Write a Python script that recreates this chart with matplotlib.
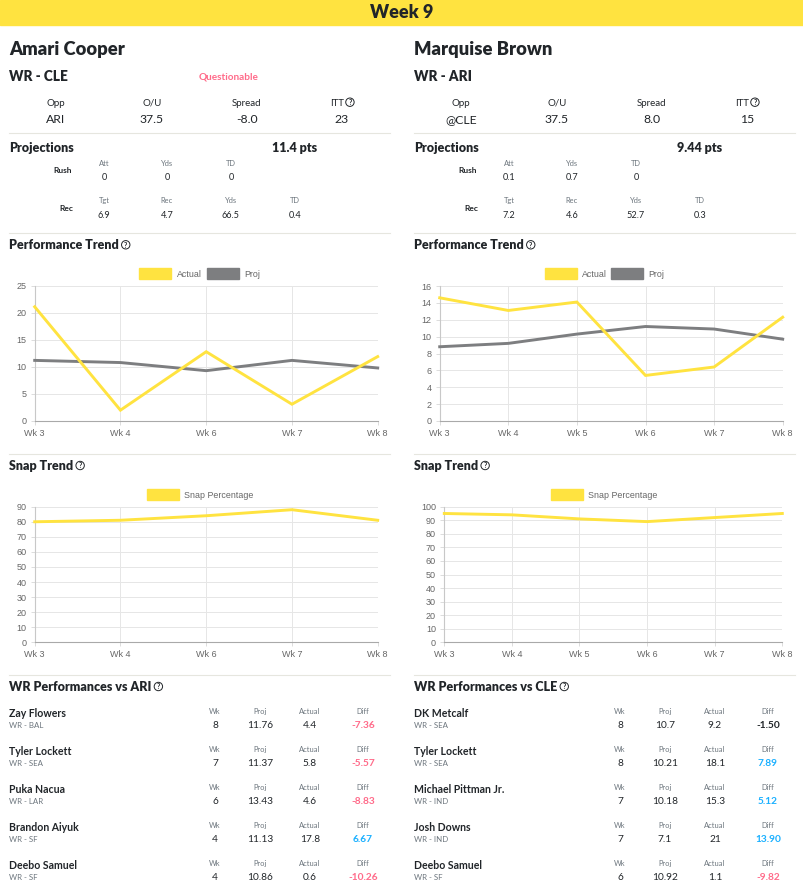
import numpy as np
import matplotlib.pyplot as plt
from matplotlib.patches import Rectangle, Circle

W, H = 804, 889
YELLOW = '#ffe340'
GREY = '#7d7e80'
INK = '#212529'
MUTED = '#6c757d'
PINK = '#ff6b8a'
BLUE = '#1ab0ff'
PAGE_FONT = ['Lato', 'DejaVu Sans']
HEAVY = 800
plt.rcParams['font.family'] = ['Liberation Sans', 'DejaVu Sans']

week_title = "Week 9"

# player cards
names = ["Amari Cooper", "Marquise Brown"]
positions = ["WR - CLE", "WR - ARI"]
statuses = ["Questionable", ""]
game_heads = ["Opp", "O/U", "Spread", "ITT"]
opps = ["ARI", "@CLE"]
over_unders = [37.5, 37.5]
spreads = [-8.0, 8.0]
itts = [23, 15]
proj_pts = ["11.4", "9.44"]
rush_heads = ["Att", "Yds", "TD"]
rush_proj = [[0, 0, 0], [0.1, 0.7, 0]]
rec_heads = ["Tgt", "Rec", "Yds", "TD"]
rec_proj = [[6.9, 4.7, 66.5, 0.4], [7.2, 4.6, 52.7, 0.3]]

# trend charts
cooper_weeks = ["Wk 3", "Wk 4", "Wk 6", "Wk 7", "Wk 8"]
cooper_actual = [21.1, 2.0, 12.8, 3.1, 11.9]
cooper_proj = [11.2, 10.8, 9.3, 11.2, 9.8]
cooper_snap = [80, 81, 84, 88, 81]
brown_weeks = ["Wk 3", "Wk 4", "Wk 5", "Wk 6", "Wk 7", "Wk 8"]
brown_actual = [14.6, 13.1, 14.1, 5.4, 6.4, 12.3]
brown_proj = [8.8, 9.2, 10.3, 11.2, 10.9, 9.7]
brown_snap = [95, 94, 91, 89, 92, 95]

# WR performances vs defense
vs_titles = ["WR Performances vs ARI", "WR Performances vs CLE"]
vs_names = [["Zay Flowers", "Tyler Lockett", "Puka Nacua", "Brandon Aiyuk", "Deebo Samuel"],
            ["DK Metcalf", "Tyler Lockett", "Michael Pittman Jr.", "Josh Downs", "Deebo Samuel"]]
vs_teams = [["WR - BAL", "WR - SEA", "WR - LAR", "WR - SF", "WR - SF"],
            ["WR - SEA", "WR - SEA", "WR - IND", "WR - IND", "WR - SF"]]
vs_wk = [[8, 7, 6, 4, 4], [8, 8, 7, 7, 6]]
vs_proj = [[11.76, 11.37, 13.43, 11.13, 10.86], [10.7, 10.21, 10.18, 7.1, 10.92]]
vs_actual = [[4.4, 5.8, 4.6, 17.8, 0.6], [9.2, 18.1, 15.3, 21, 1.1]]
table_heads = ["Wk", "Proj", "Actual", "Diff"]

fig = plt.figure(figsize=(W / 100, H / 100), dpi=100)
fig.patch.set_facecolor('white')
bg = fig.add_axes([0, 0, 1, 1])
bg.set_xlim(0, W)
bg.set_ylim(H, 0)
bg.axis('off')
renderer = fig.canvas.get_renderer()


def txt(x, y, s, size, bold=False, color=INK, ha='left', va='baseline'):
    weight = bold if not isinstance(bold, bool) else ('bold' if bold else 'normal')
    return bg.text(x, y, s, fontsize=size, fontweight=weight,
                   color=color, ha=ha, va=va, family=PAGE_FONT)


def help_icon(x, y):
    bg.add_patch(Circle((x + 4.5, y), 4.2, fill=False, ec=INK, lw=0.7))
    bg.text(x + 4.5, y + 0.4, '?', fontsize=5, ha='center', va='center',
            color=INK, family=PAGE_FONT, fontweight='bold')


def heading(x, y, s, size=9):
    t = txt(x, y, s, size, bold=HEAVY)
    bb = t.get_window_extent(renderer)
    help_icon(bb.x1 + 2.5, y - 4.5)


def separator(x, y):
    bg.plot([x, x + 381], [y, y], color='#e6e6df', lw=0.8)


def fmt(v):
    return f"{v:g}"


def legend_item(x, y, color, label):
    bg.add_patch(Rectangle((x, y - 5.5), 32, 11, color=color))
    txt(x + 37, y + 3.5, label, 6.4, color='#666666').set_family(['Liberation Sans'])


def trend_chart(box, labels, series, ymax, ystep):
    x0, y0, x1, y1 = box
    ax = fig.add_axes([x0 / W, 1 - y1 / H, (x1 - x0) / W, (y1 - y0) / H])
    xs = np.arange(len(labels))
    for z, (vals, color) in enumerate(series):
        ax.plot(xs, vals, color=color, lw=2.1, clip_on=False,
                solid_joinstyle='miter', zorder=5 - z)
    ax.set_xlim(0, len(labels) - 1)
    ax.set_ylim(0, ymax)
    ax.set_xticks(xs)
    ax.set_xticklabels(labels)
    ax.set_yticks(np.arange(0, ymax + 1, ystep))
    ax.grid(True, color='#e6e6e6', lw=0.7)
    ax.set_axisbelow(True)
    for s in ['top', 'right']:
        ax.spines[s].set_visible(False)
    ax.spines['left'].set_color('#c8c8c8')
    ax.spines['bottom'].set_color('#a9a9a9')
    ax.spines['left'].set_linewidth(0.8)
    ax.spines['bottom'].set_linewidth(0.8)
    ax.tick_params(length=3, width=0.7, color='#dcdcdc', labelsize=6.5,
                   labelcolor='#666666')
    ax.tick_params(axis='x', pad=2.5)
    ax.tick_params(axis='y', pad=3)
    return ax


# banner
bg.add_patch(Rectangle((0, 0), W, 25, color=YELLOW))
txt(W / 2, 18.3, week_title, 13, bold=HEAVY, ha='center')

game_x = [56, 152, 247, 342]
proj_x = [104, 167, 231, 295]
table_x = [215, 260, 310, 363]

for p in range(2):
    dx = 0 if p == 0 else 405
    lx = 9 + dx
    txt(lx, 55, names[p], 13.2, bold=HEAVY)
    txt(lx, 80.7, positions[p], 9.8, bold=HEAVY)
    if statuses[p]:
        txt(229 + dx, 79.3, statuses[p], 7.2, bold=True, color=PINK, ha='center')

    vals = [opps[p], f"{over_unders[p]:.1f}", f"{spreads[p]:.1f}", str(itts[p])]
    for i, (h, v) in enumerate(zip(game_heads, vals)):
        cx = game_x[i] + dx
        if h == "ITT":
            t = txt(cx - 5, 106, h, 7, ha='center')
            bb = t.get_window_extent(renderer)
            help_icon(bb.x1 + 1.5, 102.2)
        else:
            txt(cx, 106, h, 7, ha='center')
        txt(cx, 123, v, 8.8, ha='center')
    separator(lx, 133)

    txt(lx, 151.7, "Projections", 9, bold=HEAVY)
    txt(294.7 + dx, 151.7, f"{proj_pts[p]} pts", 9, bold=HEAVY, ha='center')
    txt(63 + dx, 173, "Rush", 6, bold=True, ha='center')
    for i, (h, v) in enumerate(zip(rush_heads, rush_proj[p])):
        txt(proj_x[i] + dx, 166, h, 5.4, color=MUTED, ha='center')
        txt(proj_x[i] + dx, 180, fmt(v), 6.6, ha='center')
    txt(66 + dx, 211, "Rec", 6, bold=True, ha='center')
    for i, (h, v) in enumerate(zip(rec_heads, rec_proj[p])):
        txt(proj_x[i] + dx, 203, h, 5.4, color=MUTED, ha='center')
        txt(proj_x[i] + dx, 218, fmt(v), 6.6, ha='center')
    separator(lx, 233)

    heading(lx, 249.3, "Performance Trend")
    separator(lx, 454)
    heading(lx, 470, "Snap Trend")
    separator(lx, 675.3)
    heading(lx, 691, vs_titles[p])

    for r in range(5):
        oy = 38 * r
        txt(lx, 717.3 + oy, vs_names[p][r], 7.6, bold=True)
        txt(lx, 727.7 + oy, vs_teams[p][r], 5.7, color=MUTED)
        diff = vs_actual[p][r] - vs_proj[p][r]
        cells = [str(vs_wk[p][r]), fmt(vs_proj[p][r]), fmt(vs_actual[p][r]), f"{diff:.2f}"]
        for c in range(4):
            cx = table_x[c] + dx
            txt(cx, 714 + oy, table_heads[c], 5.4, color=MUTED, ha='center')
            if c == 3:
                col = BLUE if diff > 2 else (PINK if diff < -2 else INK)
                txt(cx, 727.7 + oy, cells[c], 7.3, bold=True, color=col, ha='center')
            else:
                txt(cx, 727.7 + oy, cells[c], 7.3, ha='center')

# legends
legend_item(139.5, 273.5, YELLOW, "Actual")
legend_item(207, 273.5, GREY, "Proj")
legend_item(544.7, 273.5, YELLOW, "Actual")
legend_item(611, 273.5, GREY, "Proj")
legend_item(147, 494.5, YELLOW, "Snap Percentage")
legend_item(551, 494.5, YELLOW, "Snap Percentage")

trend_chart((34.7, 285.7, 377.7, 421), cooper_weeks,
            [(cooper_actual, YELLOW), (cooper_proj, GREY)], 25, 5)
trend_chart((439.7, 286, 782.7, 421), brown_weeks,
            [(brown_actual, YELLOW), (brown_proj, GREY)], 16, 2)
trend_chart((34.7, 506.7, 377.7, 642.3), cooper_weeks,
            [(cooper_snap, YELLOW)], 90, 10)
trend_chart((444.3, 506.7, 782.3, 642.3), brown_weeks,
            [(brown_snap, YELLOW)], 100, 10)

fig.savefig("out.png", dpi=100, facecolor='white')
